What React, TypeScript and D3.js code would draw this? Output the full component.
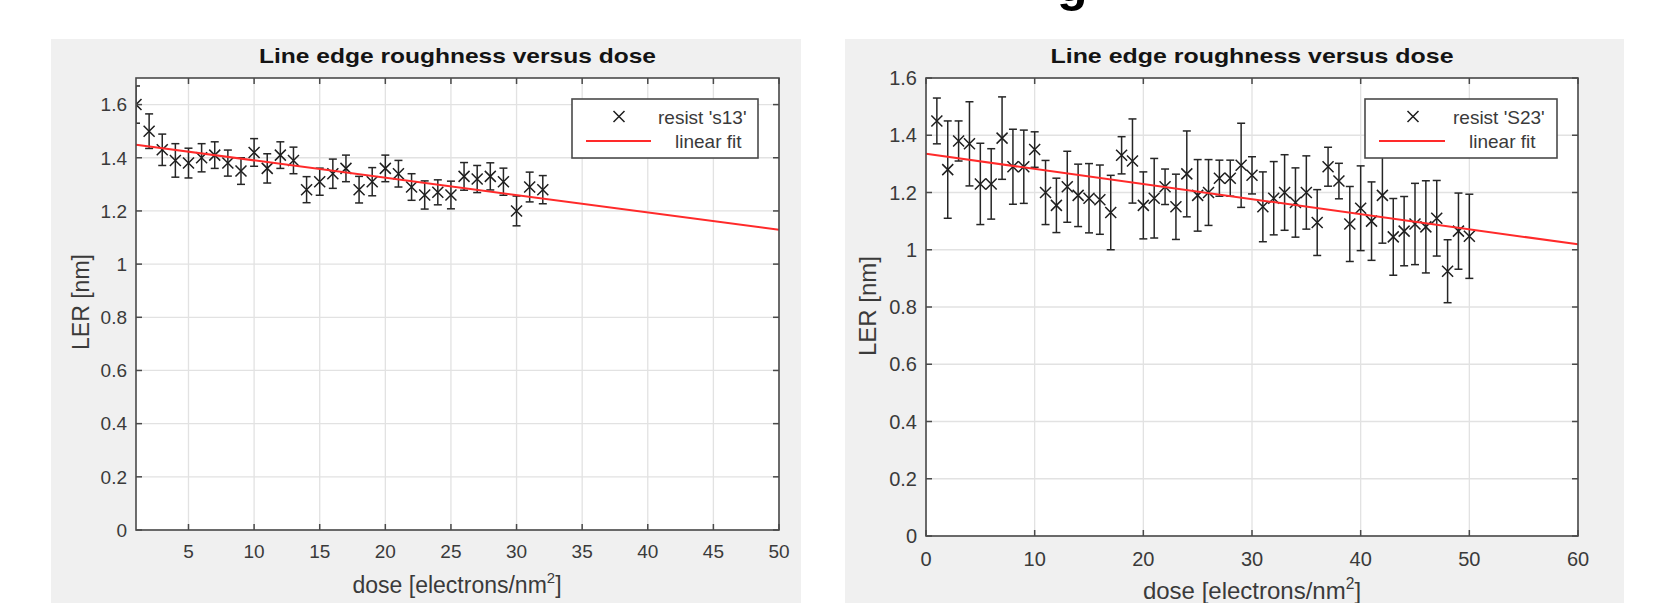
import React from "react";
import * as d3 from "d3";

// ---------- DATA ----------
const leftDose = [1, 2, 3, 4, 5, 6, 7, 8, 9, 10, 11, 12, 13, 14, 15, 16, 17, 18, 19, 20, 21, 22, 23, 24, 25, 26, 27, 28, 29, 30, 31, 32];
const leftLER = [1.60, 1.50, 1.43, 1.39, 1.38, 1.40, 1.41, 1.38, 1.35, 1.42, 1.36, 1.41, 1.39, 1.28, 1.31, 1.34, 1.36, 1.28, 1.31, 1.36, 1.34, 1.29, 1.26, 1.27, 1.26, 1.33, 1.32, 1.33, 1.31, 1.20, 1.29, 1.28];
const leftErr = [0.07, 0.065, 0.059, 0.063, 0.056, 0.053, 0.05, 0.049, 0.05, 0.052, 0.055, 0.05, 0.05, 0.049, 0.051, 0.055, 0.05, 0.05, 0.053, 0.05, 0.05, 0.05, 0.053, 0.047, 0.052, 0.052, 0.051, 0.051, 0.051, 0.056, 0.056, 0.053];
const leftFit = [1.4555, -0.00653]; // intercept, slope
const leftXTicks = [5, 10, 15, 20, 25, 30, 35, 40, 45, 50];
const leftYTicks = [0, 0.2, 0.4, 0.6, 0.8, 1, 1.2, 1.4, 1.6];

const rightDose = [1, 2, 3, 4, 5, 6, 7, 8, 9, 10, 11, 12, 13, 14, 15, 16, 17, 18, 19, 20, 21, 22, 23, 24, 25, 26, 27, 28, 29, 30, 31, 32, 33, 34, 35, 36, 37, 38, 39, 40, 41, 42, 43, 44, 45, 46, 47, 48, 49, 50];
const rightLER = [1.45, 1.28, 1.38, 1.37, 1.23, 1.23, 1.39, 1.29, 1.29, 1.35, 1.20, 1.155, 1.22, 1.19, 1.18, 1.175, 1.13, 1.33, 1.31, 1.155, 1.18, 1.22, 1.15, 1.265, 1.19, 1.20, 1.25, 1.25, 1.295, 1.26, 1.15, 1.18, 1.20, 1.165, 1.20, 1.095, 1.29, 1.24, 1.09, 1.145, 1.10, 1.19, 1.045, 1.065, 1.09, 1.08, 1.11, 0.925, 1.065, 1.047];
const rightErr = [0.080, 0.170, 0.070, 0.147, 0.142, 0.123, 0.144, 0.131, 0.128, 0.062, 0.112, 0.095, 0.124, 0.109, 0.121, 0.121, 0.130, 0.065, 0.147, 0.117, 0.139, 0.062, 0.114, 0.150, 0.125, 0.115, 0.063, 0.063, 0.147, 0.065, 0.122, 0.128, 0.132, 0.121, 0.128, 0.115, 0.068, 0.062, 0.131, 0.148, 0.137, 0.167, 0.134, 0.121, 0.142, 0.161, 0.132, 0.110, 0.133, 0.147];
const rightFit = [1.335, -0.00527];
const rightXTicks = [0, 10, 20, 30, 40, 50, 60];
const rightYTicks = [0, 0.2, 0.4, 0.6, 0.8, 1, 1.2, 1.4, 1.6];

const titleText = "Line edge roughness versus dose";
const yLabelText = "LER [nm]";
const xLabelMain = "dose [electrons/nm";
const leftLegend = ["resist 's13'", "linear fit"];
const rightLegend = ["resist 'S23'", "linear fit"];

// ---------- STYLE / LAYOUT ----------
const FONT = "'Liberation Sans', Arial, Helvetica, sans-serif";
const AXIS_COLOR = "#4a4a4a";
const GRID_COLOR = "#e2e2e2";
const TICK_TEXT = "#3a3a3a";
const MARK_COLOR = "#1e1e1e";
const RED = "#ff2a2a";

type PanelCfg = {
  id: string;
  bg: [number, number, number, number];
  plot: { l: number; r: number; t: number; b: number };
  xDomain: [number, number];
  yDomain: [number, number];
  xTicks: number[];
  yTicks: number[];
  dose: number[];
  ler: number[];
  err: number[];
  fit: number[];
  legend: string[];
  legendBox: { x: number; y: number; w: number; h: number };
  legendMarkX: number;
  legendLine: [number, number];
  legendText: [number, number];
  tickFont: number;
  xTickBase: number;
  yTickEnd: number;
  titleLen: number;
  xLabel: { x: number; y: number; size: number };
  yLabel: { x: number; y: number; size: number };
};

const panels: PanelCfg[] = [
  {
    id: "L",
    bg: [51, 39, 801, 603],
    plot: { l: 136, r: 779, t: 78, b: 530 },
    xDomain: [1, 50],
    yDomain: [0, 1.7],
    xTicks: leftXTicks,
    yTicks: leftYTicks,
    dose: leftDose,
    ler: leftLER,
    err: leftErr,
    fit: leftFit,
    legend: leftLegend,
    legendBox: { x: 572, y: 99, w: 186, h: 59 },
    legendMarkX: 619,
    legendLine: [586, 651],
    legendText: [658, 675],
    tickFont: 19,
    xTickBase: 558,
    yTickEnd: 127,
    titleLen: 397,
    xLabel: { x: 457, y: 593, size: 23 },
    yLabel: { x: 89, y: 302, size: 23 },
  },
  {
    id: "R",
    bg: [845, 39, 1624, 603],
    plot: { l: 926, r: 1578, t: 78, b: 536 },
    xDomain: [0, 60],
    yDomain: [0, 1.6],
    xTicks: rightXTicks,
    yTicks: rightYTicks,
    dose: rightDose,
    ler: rightLER,
    err: rightErr,
    fit: rightFit,
    legend: rightLegend,
    legendBox: { x: 1365, y: 99, w: 192, h: 59 },
    legendMarkX: 1413,
    legendLine: [1379, 1445],
    legendText: [1453, 1469],
    tickFont: 20,
    xTickBase: 566,
    yTickEnd: 917,
    titleLen: 403,
    xLabel: { x: 1252, y: 599, size: 24 },
    yLabel: { x: 876, y: 306, size: 24 },
  },
];

const Cross = ({ x, y, s }: { x: number; y: number; s: number }) => (
  <path d={`M${x - s},${y - s}L${x + s},${y + s}M${x - s},${y + s}L${x + s},${y - s}`} stroke={MARK_COLOR} strokeWidth={1.5} fill="none" />
);

const Panel = ({ c }: { c: PanelCfg }) => {
  const { plot } = c;
  const x = d3.scaleLinear().domain(c.xDomain).range([plot.l, plot.r]);
  const y = d3.scaleLinear().domain(c.yDomain).range([plot.b, plot.t]);
  const fitLine = d3
    .line<number>()
    .x((d) => x(d))
    .y((d) => y(c.fit[0] + c.fit[1] * d));
  const cap = 4;
  const tickLen = 6;
  const cx = (plot.l + plot.r) / 2;
  return (
    <g>
      <rect x={c.bg[0]} y={c.bg[1]} width={c.bg[2] - c.bg[0]} height={c.bg[3] - c.bg[1]} fill="#f0f0f0" />
      <rect x={plot.l} y={plot.t} width={plot.r - plot.l} height={plot.b - plot.t} fill="#ffffff" />
      <defs>
        <clipPath id={`clip${c.id}`}>
          <rect x={plot.l} y={plot.t} width={plot.r - plot.l} height={plot.b - plot.t} />
        </clipPath>
      </defs>
      {c.xTicks.map((t) => (
        <line key={`gx${t}`} x1={x(t)} x2={x(t)} y1={plot.t} y2={plot.b} stroke={GRID_COLOR} strokeWidth={1.3} />
      ))}
      {c.yTicks.map((t) => (
        <line key={`gy${t}`} x1={plot.l} x2={plot.r} y1={y(t)} y2={y(t)} stroke={GRID_COLOR} strokeWidth={1.3} />
      ))}
      <g clipPath={`url(#clip${c.id})`}>
        {c.dose.map((d, i) => {
          const px = x(d);
          const lo = y(c.ler[i] - c.err[i]);
          const hi = y(c.ler[i] + c.err[i]);
          return (
            <g key={`e${i}`} stroke="#262626" strokeWidth={1.5} fill="none">
              <line x1={px} x2={px} y1={lo} y2={hi} />
              <line x1={px - cap} x2={px + cap} y1={lo} y2={lo} />
              <line x1={px - cap} x2={px + cap} y1={hi} y2={hi} />
            </g>
          );
        })}
        {c.dose.map((d, i) => (
          <Cross key={`m${i}`} x={x(d)} y={y(c.ler[i])} s={5.5} />
        ))}
        <path d={fitLine([c.xDomain[0], c.xDomain[1]]) || ""} stroke={RED} strokeWidth={2} fill="none" />
      </g>
      <rect x={plot.l} y={plot.t} width={plot.r - plot.l} height={plot.b - plot.t} fill="none" stroke={AXIS_COLOR} strokeWidth={1.6} />
      {c.xTicks.map((t) => (
        <g key={`tx${t}`}>
          <line x1={x(t)} x2={x(t)} y1={plot.b} y2={plot.b - tickLen} stroke={AXIS_COLOR} strokeWidth={1.5} />
          <line x1={x(t)} x2={x(t)} y1={plot.t} y2={plot.t + tickLen} stroke={AXIS_COLOR} strokeWidth={1.5} />
          <text x={x(t)} y={c.xTickBase} textAnchor="middle" fontSize={c.tickFont} fill={TICK_TEXT} fontFamily={FONT}>
            {t}
          </text>
        </g>
      ))}
      {c.yTicks.map((t) => (
        <g key={`ty${t}`}>
          <line x1={plot.l} x2={plot.l + tickLen} y1={y(t)} y2={y(t)} stroke={AXIS_COLOR} strokeWidth={1.5} />
          <line x1={plot.r} x2={plot.r - tickLen} y1={y(t)} y2={y(t)} stroke={AXIS_COLOR} strokeWidth={1.5} />
          <text x={c.yTickEnd} y={y(t)} dy="0.36em" textAnchor="end" fontSize={c.tickFont} fill={TICK_TEXT} fontFamily={FONT}>
            {t}
          </text>
        </g>
      ))}
      <text x={cx} y={63} textAnchor="middle" fontSize={21} fontWeight="bold" fill="#141414" fontFamily={FONT} textLength={c.titleLen} lengthAdjust="spacingAndGlyphs">
        {titleText}
      </text>
      <text x={c.xLabel.x} y={c.xLabel.y} textAnchor="middle" fontSize={c.xLabel.size} fill={TICK_TEXT} fontFamily={FONT}>
        {xLabelMain}
        <tspan fontSize={c.xLabel.size * 0.65} dy={-c.xLabel.size * 0.42}>2</tspan>
        <tspan dy={c.xLabel.size * 0.42}>]</tspan>
      </text>
      <text
        transform={`translate(${c.yLabel.x},${c.yLabel.y}) rotate(-90)`}
        textAnchor="middle"
        fontSize={c.yLabel.size}
        fill={TICK_TEXT}
        fontFamily={FONT}
      >
        {yLabelText}
      </text>
      <rect x={c.legendBox.x} y={c.legendBox.y} width={c.legendBox.w} height={c.legendBox.h} fill="#ffffff" stroke={AXIS_COLOR} strokeWidth={1.6} />
      <Cross x={c.legendMarkX} y={c.legendBox.y + 17.5} s={5.5} />
      <line x1={c.legendLine[0]} x2={c.legendLine[1]} y1={c.legendBox.y + 42} y2={c.legendBox.y + 42} stroke={RED} strokeWidth={2} />
      <text x={c.legendText[0]} y={c.legendBox.y + 24.5} fontSize={19} fill={TICK_TEXT} fontFamily={FONT}>
        {c.legend[0]}
      </text>
      <text x={c.legendText[1]} y={c.legendBox.y + 49} fontSize={19} fill={TICK_TEXT} fontFamily={FONT}>
        {c.legend[1]}
      </text>
    </g>
  );
};

export default function App() {
  return (
    <svg
      width={1654}
      height={603}
      viewBox="0 0 1654 603"
      style={{ position: "absolute", left: 0, top: 0, background: "#ffffff" }}
    >
      <rect x={0} y={0} width={1654} height={603} fill="#ffffff" />
      <text x={1057} y={1} fontSize={50} fontWeight="bold" fill="#000" fontFamily={FONT}>
        g
      </text>
      {panels.map((p) => (
        <Panel key={p.id} c={p} />
      ))}
    </svg>
  );
}
